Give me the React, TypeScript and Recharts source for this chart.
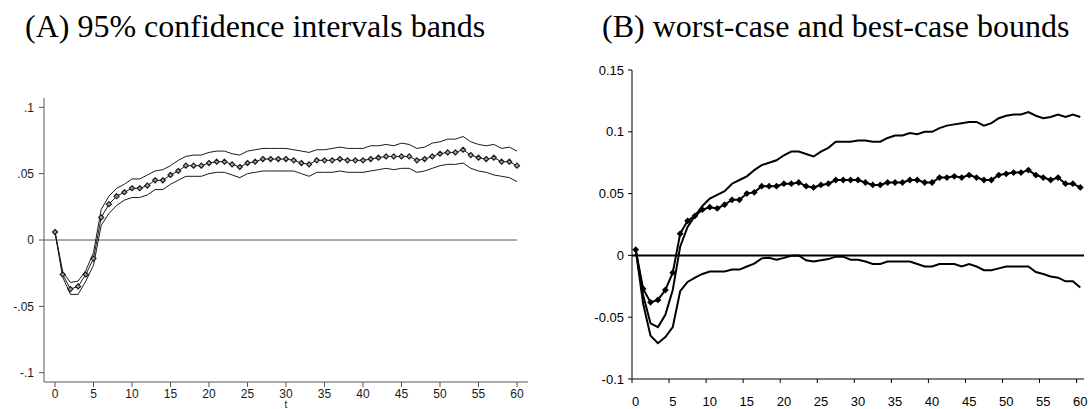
import { Line, LineChart, ReferenceLine, XAxis, YAxis } from 'recharts';

// horizon 0..60
const periods = Array.from({ length: 61 }, (_, i) => i);

// (A) point estimate with 95% bands
const estA = [
  0.006, -0.026, -0.037, -0.035, -0.026, -0.014, 0.017, 0.027, 0.033, 0.036,
  0.039, 0.039, 0.041, 0.045, 0.045, 0.049, 0.052, 0.056, 0.056, 0.056,
  0.058, 0.059, 0.059, 0.057, 0.055, 0.058, 0.059, 0.061, 0.061, 0.061,
  0.061, 0.06, 0.058, 0.057, 0.06, 0.06, 0.06, 0.061, 0.06, 0.06,
  0.06, 0.061, 0.062, 0.063, 0.063, 0.063, 0.063, 0.06, 0.061, 0.063,
  0.065, 0.066, 0.066, 0.068, 0.064, 0.062, 0.061, 0.062, 0.059, 0.059,
  0.056,
];
const upA = [
  0.006, -0.024, -0.032, -0.031, -0.023, -0.0095, 0.023, 0.033, 0.039, 0.042,
  0.046, 0.046, 0.049, 0.052, 0.053, 0.056, 0.06, 0.063, 0.064, 0.064,
  0.066, 0.067, 0.067, 0.065, 0.064, 0.067, 0.068, 0.069, 0.069, 0.069,
  0.069, 0.068, 0.067, 0.066, 0.068, 0.068, 0.069, 0.07, 0.069, 0.069,
  0.069, 0.071, 0.071, 0.072, 0.071, 0.073, 0.072, 0.069, 0.07, 0.073,
  0.074, 0.076, 0.076, 0.078, 0.074, 0.072, 0.071, 0.072, 0.069, 0.07,
  0.067,
];
const lowA = [
  0.006, -0.028, -0.041, -0.041, -0.031, -0.019, 0.011, 0.02, 0.026, 0.03,
  0.032, 0.032, 0.034, 0.038, 0.038, 0.042, 0.045, 0.048, 0.048, 0.048,
  0.05, 0.051, 0.051, 0.049, 0.047, 0.05, 0.051, 0.052, 0.052, 0.052,
  0.052, 0.052, 0.05, 0.048, 0.051, 0.051, 0.051, 0.052, 0.051, 0.051,
  0.051, 0.052, 0.053, 0.054, 0.053, 0.054, 0.054, 0.051, 0.052, 0.054,
  0.056, 0.057, 0.057, 0.058, 0.054, 0.052, 0.051, 0.049, 0.048, 0.047,
  0.044,
];

// (B) point estimate with worst/best-case bounds
const estB = [
  0.0046, -0.027, -0.038, -0.036, -0.028, -0.014, 0.0175, 0.028, 0.032, 0.037,
  0.039, 0.038, 0.041, 0.045, 0.045, 0.05, 0.051, 0.056, 0.056, 0.056,
  0.058, 0.058, 0.059, 0.056, 0.055, 0.057, 0.058, 0.061, 0.061, 0.061,
  0.061, 0.059, 0.057, 0.057, 0.059, 0.059, 0.059, 0.061, 0.061, 0.059,
  0.059, 0.063, 0.063, 0.064, 0.063, 0.065, 0.063, 0.061, 0.061, 0.065,
  0.066, 0.067, 0.067, 0.069, 0.065, 0.063, 0.061, 0.063, 0.058, 0.058,
  0.055,
];
const upB = [
  0.0046, -0.032, -0.055, -0.058, -0.048, -0.028, 0.007, 0.023, 0.032, 0.04,
  0.046, 0.049, 0.052, 0.058, 0.061, 0.064, 0.069, 0.073, 0.075, 0.077,
  0.081, 0.084, 0.084, 0.082, 0.08, 0.084, 0.087, 0.092, 0.092, 0.092,
  0.093, 0.093, 0.092, 0.092, 0.095, 0.097, 0.097, 0.099, 0.098, 0.1,
  0.1, 0.103, 0.105, 0.106, 0.107, 0.108, 0.108, 0.105, 0.107, 0.111,
  0.113, 0.114, 0.114, 0.116, 0.113, 0.111, 0.112, 0.114, 0.112, 0.114,
  0.112,
];
const lowB = [
  0.0046, -0.039, -0.065, -0.071, -0.066, -0.058, -0.029, -0.0215, -0.018, -0.015,
  -0.013, -0.013, -0.013, -0.0115, -0.0115, -0.009, -0.0067, -0.0024, -0.002, -0.0035,
  -0.002, -0.0003, 0.0, -0.004, -0.005, -0.004, -0.003, -0.001, -0.001, -0.0035,
  -0.0035, -0.005, -0.007, -0.007, -0.005, -0.005, -0.005, -0.005, -0.007, -0.009,
  -0.009, -0.007, -0.007, -0.007, -0.009, -0.007, -0.009, -0.012, -0.012, -0.0105,
  -0.009, -0.009, -0.009, -0.009, -0.0135, -0.015, -0.017, -0.018, -0.021, -0.021,
  -0.026,
];

const xTicks = [0, 5, 10, 15, 20, 25, 30, 35, 40, 45, 50, 55, 60];
const yTicksA = [-0.1, -0.05, 0, 0.05, 0.1];
const yLabelsA = ['-.1', '-.05', '0', '.05', '.1'];
const yTicksB = [-0.1, -0.05, 0, 0.05, 0.1, 0.15];
const yLabelsB = ['-0.1', '-0.05', '0', '0.05', '0.1', '0.15'];

const dataA = periods.map((t, i) => ({ t, est: estA[i], up: upA[i], low: lowA[i] }));
const dataB = periods.map((t, i) => ({ t, est: estB[i], up: upB[i], low: lowB[i] }));

const SANS = '"Liberation Sans", Arial, sans-serif';
const SERIF = '"Liberation Serif", "Times New Roman", serif';
const GREY_AXIS = '#555';
const INK = '#1a1a1a';

// width of B's plot area / 61 categories -> half a category, for Excel-style tick marks
const B_PLOT_W = 452;
const HALF_BAND = B_PLOT_W / 61 / 2;

function labelFor(ticks: number[], labels: string[]) {
  return (v: number) => {
    const i = ticks.findIndex((t) => Math.abs(t - v) < 1e-9);
    return i >= 0 ? labels[i] : String(v);
  };
}

function HollowDiamond(props: any) {
  const { cx, cy } = props;
  if (cx == null || cy == null) return null;
  const r = 2.5;
  return (
    <path
      d={`M${cx},${cy - r}L${cx + r},${cy}L${cx},${cy + r}L${cx - r},${cy}Z`}
      fill="#aaa"
      stroke={INK}
      strokeWidth={1.2}
    />
  );
}

function SolidDiamond(props: any) {
  const { cx, cy } = props;
  if (cx == null || cy == null) return null;
  const r = 3.4;
  return (
    <path
      d={`M${cx},${cy - r}L${cx + r},${cy}L${cx},${cy + r}L${cx - r},${cy}Z`}
      fill="#000"
    />
  );
}

// Excel category axis: label in the middle of the category, tick mark on its left edge
function ExcelTick(props: any) {
  const { x, y, payload } = props;
  return (
    <g>
      <line x1={x - HALF_BAND} x2={x - HALF_BAND} y1={y - 4} y2={y} stroke="#000" />
      <text x={x} y={y + 23} textAnchor="middle" fontSize={13} fontFamily={SANS} fill="#000">
        {payload.value}
      </text>
    </g>
  );
}

function PanelA() {
  return (
    <LineChart
      width={560}
      height={349}
      data={dataA}
      margin={{ top: 38, right: 32, bottom: 0, left: 0 }}
    >
      <XAxis
        type="number"
        dataKey="t"
        domain={[-1.43, 61.43]}
        allowDataOverflow
        ticks={xTicks}
        interval={0}
        height={27}
        tickSize={5}
        tickMargin={2}
        stroke={GREY_AXIS}
        tick={{ fontSize: 12, fontFamily: SANS, fill: INK }}
        label={{ value: 't', position: 'insideBottom', offset: 1, fontSize: 10, fontFamily: SANS, fill: INK }}
      />
      <YAxis
        type="number"
        domain={[-0.107, 0.107]}
        allowDataOverflow
        ticks={yTicksA}
        interval={0}
        width={44}
        tickSize={5}
        tickMargin={5}
        stroke={GREY_AXIS}
        tickFormatter={labelFor(yTicksA, yLabelsA)}
        tick={{ fontSize: 12, fontFamily: SANS, fill: INK }}
      />
      <ReferenceLine
        segment={[
          { x: -1.43, y: 0 },
          { x: 60, y: 0 },
        ]}
        stroke={GREY_AXIS}
        strokeWidth={1}
      />
      <Line dataKey="up" stroke={INK} strokeWidth={1} dot={false} isAnimationActive={false} />
      <Line dataKey="low" stroke={INK} strokeWidth={1} dot={false} isAnimationActive={false} />
      <Line
        dataKey="est"
        stroke={INK}
        strokeWidth={1}
        dot={<HollowDiamond />}
        isAnimationActive={false}
      />
    </LineChart>
  );
}

function PanelB() {
  return (
    <LineChart
      width={530}
      height={359}
      data={dataB}
      margin={{ top: 20, right: 6, bottom: 0, left: 0 }}
    >
      <XAxis
        type="number"
        dataKey="t"
        domain={[-0.5, 60.5]}
        allowDataOverflow
        ticks={xTicks}
        interval={0}
        height={30}
        tickLine={false}
        tickSize={4}
        tickMargin={0}
        stroke="#000"
        tick={<ExcelTick />}
      />
      <YAxis
        type="number"
        domain={[-0.1, 0.15]}
        allowDataOverflow
        ticks={yTicksB}
        interval={0}
        width={72}
        tickSize={4}
        tickMargin={4}
        stroke="#000"
        tickFormatter={labelFor(yTicksB, yLabelsB)}
        tick={{ fontSize: 13, fontFamily: SANS, fill: '#000' }}
      />
      <ReferenceLine y={0} stroke="#000" strokeWidth={2} />
      <Line dataKey="up" stroke="#000" strokeWidth={2} dot={false} isAnimationActive={false} />
      <Line dataKey="low" stroke="#000" strokeWidth={2} dot={false} isAnimationActive={false} />
      <Line
        dataKey="est"
        stroke="#000"
        strokeWidth={2}
        dot={<SolidDiamond />}
        isAnimationActive={false}
      />
    </LineChart>
  );
}

export default function App() {
  return (
    <div
      style={{
        position: 'absolute',
        left: 0,
        top: 0,
        width: 1090,
        height: 409,
        background: '#fff',
        overflow: 'hidden',
      }}
    >
      <svg width={1090} height={60} style={{ position: 'absolute', left: 0, top: 0 }}>
        <text x={25} y={37} fontSize={32} fontFamily={SERIF} fill="#000">
          (A) 95% confidence intervals bands
        </text>
        <text x={602} y={37} fontSize={32} fontFamily={SERIF} fill="#000">
          (B) worst-case and best-case bounds
        </text>
      </svg>
      <div style={{ position: 'absolute', left: 0, top: 60 }}>
        <PanelA />
      </div>
      <div style={{ position: 'absolute', left: 560, top: 50 }}>
        <PanelB />
      </div>
    </div>
  );
}
